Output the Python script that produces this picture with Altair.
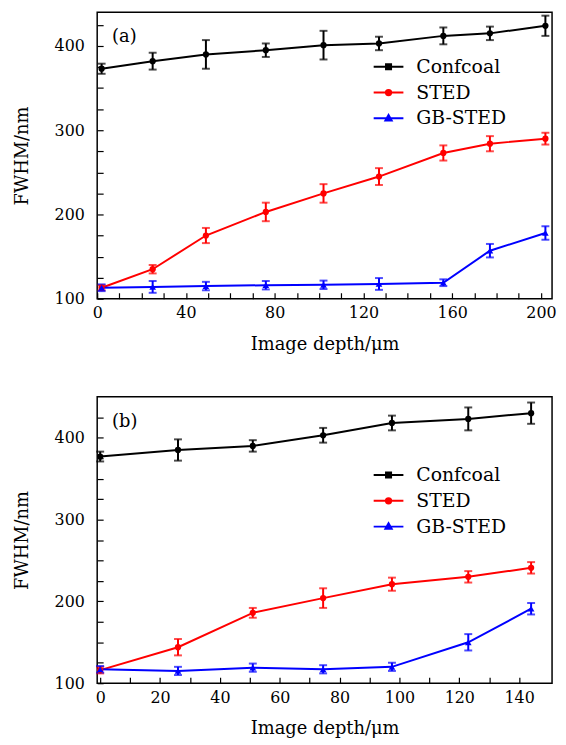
import altair as alt
import pandas as pd

FONT = "DejaVu Serif"
series_names = ["Confcoal", "STED", "GB-STED"]
series_colors = ["#000000", "#ff0000", "#0000ff"]
legend_shapes = [
    "M-1,0H1M-0.17,-0.17H0.17V0.17H-0.17Z",
    "M-1,0H1M-0.18,0A0.18,0.18,0,1,0,0.18,0A0.18,0.18,0,1,0,-0.18,0Z",
    "M-1,0H1M0,-0.22L0.21,0.15H-0.21Z",
]

# Panel (a)
depth_a = [2, 25, 49, 76, 102, 127, 156, 177, 202]
conf_a = [373, 382, 390, 395, 401, 403, 412, 415, 424]
conf_a_err = [6, 10, 17, 8, 17, 8, 10, 8, 12]
sted_a = [113, 135, 175, 203, 225, 245, 273, 284, 290]
sted_a_err = [3, 5, 9, 11, 11, 10, 9, 9, 7]
gb_a = [113, 114, 115, 116, 116.5, 117.5, 119, 157, 178]
gb_a_err = [4, 7, 5, 5, 5, 7, 4, 8, 8]

# Panel (b)
depth_b = [0, 26, 51, 74.5, 97.5, 123, 144]
conf_b = [377, 385, 390, 403, 418, 423, 430]
conf_b_err = [6, 13, 7, 9, 9, 14, 13]
sted_b = [116, 144, 186, 204, 221, 230, 241]
sted_b_err = [4, 10, 6, 12, 8, 7, 7]
gb_b = [117, 115, 119, 117, 120, 150, 191]
gb_b_err = [4, 5, 5, 5, 5, 10, 7]

xticks_a = list(range(0, 201, 10))
xticks_b = list(range(0, 141, 10))
yticks_a = list(range(100, 426, 25))
yticks_b = list(range(100, 426, 25))


def long_df(depth, vals, errs):
    rows = []
    for name, v, e in zip(series_names, vals, errs):
        for d, y, s in zip(depth, v, e):
            rows.append({"depth": d, "fwhm": y, "err": s, "series": name})
    return pd.DataFrame(rows)


def panel(df, xdom, xticks, xstep, ydom, yticks, label, legend_y):
    x = alt.X(
        "depth:Q",
        scale=alt.Scale(domain=xdom, nice=False, zero=False),
        axis=alt.Axis(
            title="Image depth/μm", values=xticks,
            labelExpr=f"datum.value % {xstep} == 0 ? datum.label : ''",
            offset=-6, tickSize=6, domain=False, grid=False,
            labelPadding=6, titlePadding=15, labelFlush=False, labelOverlap=False,
        ),
    )
    y = alt.Y(
        "fwhm:Q",
        scale=alt.Scale(domain=ydom, nice=False, zero=False),
        axis=alt.Axis(
            title="FWHM/nm", values=yticks,
            labelExpr="datum.value % 100 == 0 ? datum.label : ''",
            offset=-6, tickSize=6, domain=False, grid=False,
            labelPadding=13, titlePadding=23, labelFlush=False, labelOverlap=False,
        ),
    )
    cscale = alt.Scale(domain=series_names, range=series_colors)
    color = alt.Color("series:N", scale=cscale, legend=None)
    base = alt.Chart(df)
    lines = base.mark_line(strokeWidth=2).encode(x=x, y=y, color=color)
    errs = base.mark_errorbar(ticks=True, thickness=2, size=8).encode(
        x=x, y=y, yError="err:Q", color=color
    )
    pts_c = base.transform_filter(
        alt.FieldOneOfPredicate(field="series", oneOf=["Confcoal", "STED"])
    ).mark_point(filled=True, size=40, shape="circle", opacity=1).encode(x=x, y=y, color=color)
    pts_t = base.transform_filter(alt.datum.series == "GB-STED").mark_point(
        filled=True, size=45, shape="triangle-up", opacity=1
    ).encode(x=x, y=y, color=color)
    leg = alt.Legend(
        title=None, orient="none", legendX=278, legendY=legend_y,
        labelFont=FONT, labelFontSize=19, labelColor="black",
        symbolSize=900, symbolStrokeWidth=2, symbolOpacity=1,
        rowPadding=0, labelOffset=12, padding=0,
    )
    legend_layer = base.transform_filter("false").mark_point(filled=True).encode(
        x=x, y=y,
        fill=alt.Fill("series:N", scale=cscale, legend=leg),
        stroke=alt.Stroke("series:N", scale=cscale, legend=leg),
        shape=alt.Shape("series:N", scale=alt.Scale(domain=series_names, range=legend_shapes), legend=leg),
    )
    txt = alt.Chart(pd.DataFrame({"t": [label]})).mark_text(
        font=FONT, fontSize=18, align="left", baseline="middle", color="black"
    ).encode(text="t:N", x=alt.value(15), y=alt.value(25))
    return alt.layer(lines, errs, pts_c, pts_t, legend_layer, txt).resolve_scale(
        color="independent"
    ).resolve_legend(color="independent").properties(width=459, height=289)


df_a = long_df(depth_a, [conf_a, sted_a, gb_a], [conf_a_err, sted_a_err, gb_a_err])
df_b = long_df(depth_b, [conf_b, sted_b, gb_b], [conf_b_err, sted_b_err, gb_b_err])

pa = panel(df_a, [0, 205], xticks_a, 40, [100, 440], yticks_a, "(a)", 39)
pb = panel(df_b, [-1, 151], xticks_b, 20, [100, 450], yticks_b, "(b)", 63)

chart = alt.vconcat(pa, pb, spacing=42).resolve_scale(
    fill="independent", stroke="independent", shape="independent"
).resolve_legend(
    fill="independent", stroke="independent", shape="independent"
).properties(
    padding={"left": 4, "top": 0, "right": 1, "bottom": 1}
).configure_view(
    stroke="black", strokeWidth=1.5
).configure_axis(
    labelFont=FONT, titleFont=FONT, labelFontSize=16, titleFontSize=18,
    labelColor="black", titleColor="black", titleFontWeight="normal",
    tickColor="black", tickWidth=1.2,
)

chart.save("out.html", embed_options={"renderer": "svg", "actions": False})
